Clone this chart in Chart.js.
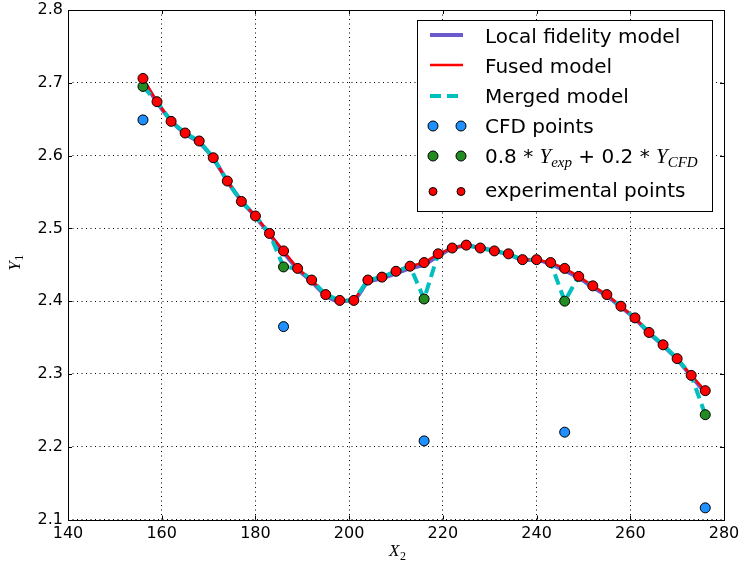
<!DOCTYPE html>
<html><head><meta charset="utf-8">
<script src="https://cdn.jsdelivr.net/npm/chart.js@4.4.1/dist/chart.umd.min.js"></script>
<style>html,body{margin:0;padding:0;background:#fff;overflow:hidden}</style>
</head><body>
<canvas id="c" width="743" height="565" style="width:743px;height:565px;display:block"></canvas>
<script>
// ---- data ----
const xPoints = [156,159,162,165,168,171,174,177,180,183,186,189,192,195,198,201,204,207,210,213,216,219,222,225,228,231,234,237,240,243,246,249,252,255,258,261,264,267,270,273,276];
const expY    = [2.706,2.674,2.647,2.631,2.620,2.597,2.565,2.537,2.517,2.493,2.469,2.445,2.429,2.409,2.401,2.401,2.429,2.433,2.441,2.448,2.453,2.465,2.473,2.477,2.473,2.469,2.465,2.457,2.457,2.453,2.445,2.434,2.421,2.409,2.393,2.377,2.357,2.340,2.321,2.298,2.277];
const localY  = [2.704,2.673,2.648,2.630,2.618,2.596,2.565,2.538,2.516,2.492,2.467,2.444,2.427,2.408,2.400,2.402,2.426,2.431,2.438,2.445,2.450,2.462,2.472,2.476,2.473,2.469,2.464,2.457,2.456,2.451,2.442,2.432,2.419,2.407,2.392,2.376,2.356,2.339,2.320,2.297,2.274];
const mergedY = [2.695,2.674,2.647,2.631,2.620,2.597,2.565,2.537,2.517,2.493,2.447,2.445,2.429,2.409,2.401,2.401,2.429,2.433,2.441,2.448,2.403,2.465,2.473,2.477,2.473,2.469,2.465,2.457,2.457,2.453,2.400,2.434,2.421,2.409,2.393,2.377,2.357,2.340,2.321,2.298,2.244];
const cfdX = [156,186,216,246,276];
const cfdY = [2.649,2.365,2.208,2.220,2.116];
const mixY = [2.695,2.447,2.403,2.400,2.244];
const xTicks = [140,160,180,200,220,240,260,280];
const yTicks = [2.1,2.2,2.3,2.4,2.5,2.6,2.7,2.8];
const legendLabels = ["Local fidelity model","Fused model","Merged model","CFD points","experimental points"];

const C_LOCAL = '#6a5acd', C_FUSED = '#ff0000', C_MERGED = '#00bfbf', C_CFD = '#1e90ff', C_MIX = '#228b22', C_EXP = '#ff0000';

const pts = (xs, ys) => xs.map((x, i) => ({x, y: ys[i]}));

const SANS = '"DejaVu Sans", sans-serif';
const SERIF_I = 'italic 17px "Liberation Serif", "DejaVu Serif", serif';

function drawMarker(ctx, x, y, r, color) {
  ctx.beginPath(); ctx.arc(x, y, r, 0, Math.PI * 2);
  ctx.fillStyle = color; ctx.fill();
  ctx.lineWidth = 1; ctx.strokeStyle = '#000'; ctx.stroke();
}

const decor = {
  id: 'decor',
  afterDraw(chart) {
    const ctx = chart.ctx, a = chart.chartArea;
    const xs = chart.scales.x, ys = chart.scales.y;
    ctx.save();
    // frame
    ctx.strokeStyle = '#000'; ctx.lineWidth = 1;
    ctx.strokeRect(Math.round(a.left) + 0.5, Math.round(a.top) + 0.5, Math.round(a.right - a.left), Math.round(a.bottom - a.top));
    // inward ticks on all sides
    ctx.beginPath();
    xTicks.forEach(v => {
      const px = Math.round(xs.getPixelForValue(v)) + 0.5;
      ctx.moveTo(px, a.bottom); ctx.lineTo(px, a.bottom - 4);
      ctx.moveTo(px, a.top); ctx.lineTo(px, a.top + 4);
    });
    yTicks.forEach(v => {
      const py = Math.round(ys.getPixelForValue(v)) + 0.5;
      ctx.moveTo(a.left, py); ctx.lineTo(a.left + 4, py);
      ctx.moveTo(a.right, py); ctx.lineTo(a.right - 4, py);
    });
    ctx.stroke();

    // axis labels
    ctx.fillStyle = '#000';
    ctx.textBaseline = 'alphabetic';
    const cx = (a.left + a.right) / 2;
    ctx.font = SERIF_I; ctx.textAlign = 'left';
    ctx.fillText('X', cx - 7, 556);
    ctx.font = '12px "Liberation Serif", serif';
    ctx.fillText('2', cx + 4, 560);
    ctx.save();
    ctx.translate(20, (a.top + a.bottom) / 2 + 6);
    ctx.rotate(-Math.PI / 2);
    ctx.font = SERIF_I; ctx.fillText('Y', 0, 0);
    ctx.font = '12px "Liberation Serif", serif'; ctx.fillText('1', 10, 3);
    ctx.restore();

    // legend
    const L = 417.5, T = 20.5, W = 295, H = 191;
    ctx.fillStyle = '#fff'; ctx.fillRect(L, T, W, H);
    ctx.strokeStyle = '#000'; ctx.lineWidth = 1; ctx.strokeRect(L, T, W, H);
    const hx0 = 430, hx1 = 463, tx = 485;
    ctx.lineCap = 'butt';
    ctx.beginPath(); ctx.strokeStyle = C_LOCAL; ctx.lineWidth = 4; ctx.moveTo(hx0, 35); ctx.lineTo(hx1, 35); ctx.stroke();
    ctx.beginPath(); ctx.strokeStyle = C_FUSED; ctx.lineWidth = 2.5; ctx.moveTo(hx0, 65); ctx.lineTo(hx1, 65); ctx.stroke();
    ctx.beginPath(); ctx.strokeStyle = C_MERGED; ctx.lineWidth = 4; ctx.setLineDash([11, 6]); ctx.moveTo(hx0, 96); ctx.lineTo(hx1, 96); ctx.stroke();
    ctx.setLineDash([]);
    drawMarker(ctx, 433, 126, 5, C_CFD); drawMarker(ctx, 461, 126, 5, C_CFD);
    drawMarker(ctx, 433, 156, 5, C_MIX); drawMarker(ctx, 461, 156, 5, C_MIX);
    drawMarker(ctx, 433, 191.5, 4, C_EXP); drawMarker(ctx, 461, 191.5, 4, C_EXP);
    ctx.fillStyle = '#000'; ctx.textAlign = 'left'; ctx.textBaseline = 'alphabetic';
    ctx.font = '20px ' + SANS;
    ctx.fillText(legendLabels[0], tx, 42.5);
    ctx.fillText(legendLabels[1], tx, 72.5);
    ctx.fillText(legendLabels[2], tx, 102.5);
    ctx.fillText(legendLabels[3], tx, 133);
    ctx.fillText(legendLabels[4], tx, 197);
    let x = tx; const by = 163;
    const seg = (t, font, dy) => { ctx.font = font; ctx.fillText(t, x, by + (dy || 0)); x += ctx.measureText(t).width; };
    seg('0.8 * ', '20px ' + SANS);
    seg('Y', 'italic 21px "Liberation Serif", serif');
    seg('exp', 'italic 15px "Liberation Serif", serif', 4);
    seg(' + 0.2 * ', '20px ' + SANS);
    seg('Y', 'italic 21px "Liberation Serif", serif');
    seg('CFD', 'italic 15px "Liberation Serif", serif', 4);
    ctx.restore();
  }
};

new Chart(document.getElementById('c'), {
  type: 'scatter',
  data: {
    datasets: [
      { label: legendLabels[4], data: pts(xPoints, expY), backgroundColor: C_EXP, borderColor: '#000', borderWidth: 1, pointRadius: 5, showLine: false },
      { label: '0.8 * Y_exp + 0.2 * Y_CFD', data: pts(cfdX, mixY), backgroundColor: C_MIX, borderColor: '#000', borderWidth: 1, pointRadius: 5, showLine: false },
      { label: legendLabels[3], data: pts(cfdX, cfdY), backgroundColor: C_CFD, borderColor: '#000', borderWidth: 1, pointRadius: 5, showLine: false },
      { label: legendLabels[2], data: pts(xPoints, mergedY), borderColor: C_MERGED, borderWidth: 4, borderDash: [11, 6], pointRadius: 0, showLine: true, tension: 0, fill: false },
      { label: legendLabels[1], data: pts(xPoints, expY), borderColor: C_FUSED, borderWidth: 2.5, pointRadius: 0, showLine: true, tension: 0, fill: false },
      { label: legendLabels[0], data: pts(xPoints, localY), borderColor: C_LOCAL, borderWidth: 4, pointRadius: 0, showLine: true, cubicInterpolationMode: 'monotone', fill: false }
    ]
  },
  options: {
    responsive: false,
    animation: false,
    devicePixelRatio: 1,
    layout: { padding: { left: 0, top: 10, right: 19, bottom: 0 } },
    plugins: { legend: { display: false }, tooltip: { enabled: false } },
    scales: {
      x: {
        type: 'linear', min: 140, max: 280,
        afterBuildTicks: s => { s.ticks = xTicks.map(v => ({ value: v })); },
        afterFit: s => { s.height = 45.5; s.paddingLeft = 0; s.paddingRight = 0; },
        ticks: { color: '#000', font: { family: 'DejaVu Sans', size: 16 }, padding: 5, maxRotation: 0, callback: v => String(v) },
        grid: { color: '#000', lineWidth: 1, drawTicks: false },
        border: { display: false, dash: [1, 3.5] }
      },
      y: {
        type: 'linear', min: 2.1, max: 2.8,
        afterBuildTicks: s => { s.ticks = yTicks.map(v => ({ value: v })); },
        afterFit: s => { s.width = 68; s.paddingTop = 0; s.paddingBottom = 0; },
        ticks: { color: '#000', font: { family: 'DejaVu Sans', size: 16 }, padding: 5, callback: v => Number(v).toFixed(1) },
        grid: { color: '#000', lineWidth: 1, drawTicks: false },
        border: { display: false, dash: [1, 3.5] }
      }
    }
  },
  plugins: [decor]
});
</script>
</body></html>
